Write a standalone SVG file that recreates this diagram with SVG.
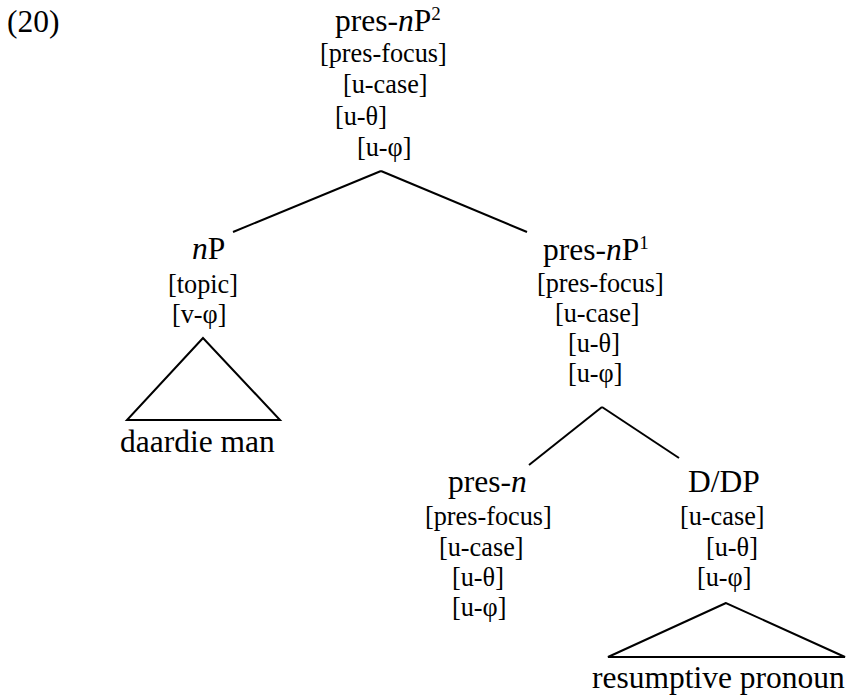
<svg xmlns="http://www.w3.org/2000/svg" width="847" height="699" viewBox="0 0 847 699">
<style>
text { font-family: "Liberation Serif", "Times New Roman", serif; fill: #000; }
.lab { font-size: 31.5px; }
.ft { font-size: 26.25px; }
.it { font-style: italic; }
.sup { font-size: 19px; }
.edge { stroke: #000; stroke-width: 2; fill: none; }
</style>
<rect width="847" height="699" fill="#fff"/>
<text class="lab" x="7" y="32">(20)</text>
<g id="connectors">
  <line class="edge" x1="381" y1="171" x2="233" y2="232"/>
  <line class="edge" x1="381" y1="171" x2="527" y2="232"/>
  <line class="edge" x1="602" y1="407" x2="529" y2="465"/>
  <line class="edge" x1="602" y1="407" x2="679" y2="458"/>
</g>
<g id="node-presnP2">
  <text class="lab" x="335" y="31">pres-<tspan class="it">n</tspan>P<tspan class="sup" dy="-11">2</tspan></text>
  <text class="ft" x="320" y="62">[pres-focus]</text>
  <text class="ft" x="343" y="93">[u-case]</text>
  <text class="ft" x="335" y="125">[u-θ]</text>
  <text class="ft" x="357" y="156">[u-φ]</text>
</g>
<g id="node-nP">
  <text class="lab" x="192" y="259"><tspan class="it">n</tspan>P</text>
  <text class="ft" x="168" y="293">[topic]</text>
  <text class="ft" x="172" y="323">[v-φ]</text>
  <polygon class="edge" points="203,338 127,420 280,420"/>
  <text class="lab" x="120" y="452">daardie man</text>
</g>
<g id="node-presnP1">
  <text class="lab" x="543" y="260">pres-<tspan class="it">n</tspan>P<tspan class="sup" dy="-11">1</tspan></text>
  <text class="ft" x="537" y="292">[pres-focus]</text>
  <text class="ft" x="555" y="322">[u-case]</text>
  <text class="ft" x="568" y="352">[u-θ]</text>
  <text class="ft" x="568" y="382">[u-φ]</text>
</g>
<g id="node-presn">
  <text class="lab" x="448" y="492">pres-<tspan class="it">n</tspan></text>
  <text class="ft" x="425" y="525">[pres-focus]</text>
  <text class="ft" x="439" y="556">[u-case]</text>
  <text class="ft" x="452" y="586">[u-θ]</text>
  <text class="ft" x="452" y="616">[u-φ]</text>
</g>
<g id="node-DDP">
  <text class="lab" x="688" y="492">D/DP</text>
  <text class="ft" x="680" y="525">[u-case]</text>
  <text class="ft" x="706" y="556">[u-θ]</text>
  <text class="ft" x="697" y="586">[u-φ]</text>
  <polygon class="edge" points="726,603 608,657 845,657"/>
  <text class="lab" x="592" y="688">resumptive pronoun</text>
</g>
</svg>
